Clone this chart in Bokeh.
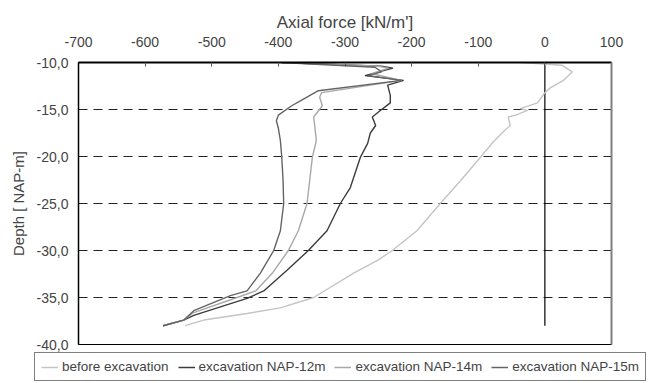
from bokeh.plotting import figure
from bokeh.layouts import column, row
from bokeh.models import LinearAxis, Range1d, Legend, LegendItem, FixedTicker
from bokeh.embed import file_html
from bokeh.resources import INLINE

# ---- data ----
x_ticks = [-700, -600, -500, -400, -300, -200, -100, 0, 100]
x_tick_labels = ["-700", "-600", "-500", "-400", "-300", "-200", "-100", "0", "100"]
y_ticks = [-10, -15, -20, -25, -30, -35, -40]
y_tick_labels = ["-10,0", "-15,0", "-20,0", "-25,0", "-30,0", "-35,0", "-40,0"]

before_force = [-34, 26, 41, 28, 8, -1, -11, -37, -26, -44, -55, -52, -60, -77, -97, -127, -157,
                -192, -229, -250, -287, -347, -397, -447, -512, -540]
before_depth = [-10.0, -10.3, -11.0, -11.9, -12.7, -13.3, -14.3, -14.9, -15.1, -15.6, -15.8, -16.7,
                -17.2, -18.4, -20.1, -22.6, -25.0, -27.9, -30.0, -31.0, -32.4, -35.0, -36.1, -36.7,
                -37.4, -38.0]

nap12_force = [-395, -245, -228, -270, -212, -236, -232, -232, -247, -259, -254, -262, -266, -277,
               -292, -307, -327, -355, -387, -422, -447, -527, -542, -573]
nap12_depth = [-10.0, -10.4, -10.6, -11.4, -11.9, -12.4, -13.5, -14.3, -15.1, -15.8, -16.7, -17.5,
               -18.6, -20.1, -23.3, -25.0, -27.9, -30.0, -32.1, -34.3, -35.1, -36.9, -37.4, -38.0]

nap14_force = [-395, -250, -235, -260, -215, -335, -338, -334, -347, -345, -343, -349, -357, -370,
               -385, -409, -434, -462, -527, -542, -573]
nap14_depth = [-10.0, -10.4, -10.6, -11.2, -11.9, -13.2, -13.7, -14.6, -15.8, -17.0, -18.3, -20.1,
               -25.0, -27.9, -30.0, -32.4, -34.3, -35.0, -36.6, -37.4, -38.0]

nap15_force = [-395, -255, -245, -265, -215, -340, -365, -380, -400, -403, -400, -397, -395, -393,
               -392, -397, -407, -427, -447, -472, -527, -542, -573]
nap15_depth = [-10.0, -10.5, -11.0, -11.4, -11.9, -13.0, -14.0, -14.6, -15.6, -16.2, -17.0, -18.3,
               -20.0, -22.5, -25.0, -27.9, -30.0, -32.4, -34.3, -34.8, -36.4, -37.4, -38.0]

zero_line_force = [0, 0]
zero_line_depth = [-10, -38]

series_names = ["before excavation", "excavation NAP-12m", "excavation NAP-14m", "excavation NAP-15m"]
series_colors = ["#c4c4c4", "#3c3c3c", "#a8a8a8", "#646464"]

FONT = "Liberation Sans"
W = 650

p = figure(width=W, height=352, output_backend="svg", toolbar_location=None,
           x_range=Range1d(-700, 100), y_range=Range1d(-40, -10),
           x_axis_location="above",
           min_border_left=78, min_border_right=39, min_border_top=62, min_border_bottom=8)
p.background_fill_color = "white"
p.border_fill_color = "white"
p.outline_line_color = "black"
p.outline_line_width = 1

# top x axis
xa = p.xaxis[0]
xa.ticker = FixedTicker(ticks=x_ticks)
xa.major_label_overrides = {t: l for t, l in zip(x_ticks, x_tick_labels)}
xa.axis_label = "Axial force [kN/m']"
xa.axis_label_text_font = FONT
xa.axis_label_text_font_size = "17px"
xa.axis_label_text_font_style = "normal"
xa.axis_label_standoff = 2
xa.major_label_text_font = FONT
xa.major_label_text_font_size = "14px"
xa.major_label_standoff = 16
xa.major_tick_in = 4
xa.major_tick_out = 0
xa.minor_tick_in = 0
xa.minor_tick_out = 0
xa.axis_line_color = "black"
xa.axis_line_width = 2
xa.major_tick_line_color = "#555555"

# left y axis
ya = p.yaxis[0]
ya.ticker = FixedTicker(ticks=y_ticks)
ya.major_label_overrides = {t: l for t, l in zip(y_ticks, y_tick_labels)}
ya.axis_label = "Depth [ NAP-m]"
ya.axis_label_text_font = FONT
ya.axis_label_text_font_size = "15px"
ya.axis_label_text_font_style = "normal"
ya.axis_label_standoff = 7
ya.major_label_text_font = FONT
ya.major_label_text_font_size = "14px"
ya.major_label_standoff = 10
ya.major_tick_in = 0
ya.major_tick_out = 0
ya.minor_tick_in = 0
ya.minor_tick_out = 0
ya.axis_line_color = "black"
ya.axis_line_width = 1.5

# right border (grey)
ra = LinearAxis(major_label_text_font_size="0px", major_tick_in=0, major_tick_out=0,
                minor_tick_in=0, minor_tick_out=0, axis_line_color="#808080", axis_line_width=2)
ra.ticker = FixedTicker(ticks=[])
p.add_layout(ra, "right")

p.xgrid.grid_line_color = None
p.ygrid.ticker = FixedTicker(ticks=y_ticks[1:-1])
p.ygrid.grid_line_color = "#222222"
p.ygrid.grid_line_dash = "9 6"
p.ygrid.grid_line_width = 1

p.line(zero_line_force, zero_line_depth, line_color="black", line_width=1.2)

forces = [before_force, nap12_force, nap14_force, nap15_force]
depths = [before_depth, nap12_depth, nap14_depth, nap15_depth]
for f, d, c in zip(forces, depths, series_colors):
    p.line(f, d, line_color=c, line_width=1.4)

# ---- legend strip (separate svg figure below the chart) ----
# its ranges lie far away from the data, so its own copies of the series stay hidden
lf = figure(width=W, height=31, output_backend="svg", toolbar_location=None,
            x_range=Range1d(1000, 1001), y_range=Range1d(1000, 1001),
            x_axis_type=None, y_axis_type=None, min_border=0)
lf.outline_line_color = None
lf.xgrid.grid_line_color = None
lf.ygrid.grid_line_color = None
items = []
for n, f, d, c in zip(series_names, forces, depths, series_colors):
    r = lf.line(f, d, line_color=c, line_width=1.5)
    items.append(LegendItem(label=n, renderers=[r]))

legend = Legend(items=items, location=(34, 2), orientation="horizontal",
                border_line_color="black", border_line_width=1,
                background_fill_color="white", background_fill_alpha=1,
                label_text_font=FONT, label_text_font_size="13.5px",
                glyph_width=17, glyph_height=14, label_standoff=4, spacing=9,
                padding=6, margin=0, label_height=12)
lf.add_layout(legend, "center")

layout = column(p, row(lf), spacing=0)
open("out.html", "w").write(file_html(layout, INLINE))
